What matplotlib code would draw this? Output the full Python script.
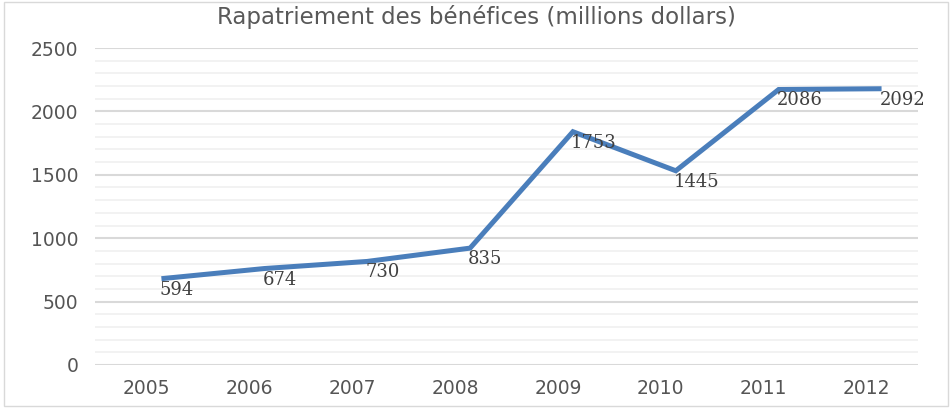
import matplotlib
matplotlib.use("Agg")
import matplotlib.pyplot as plt
import matplotlib.transforms as mtransforms
from matplotlib.patches import Rectangle

years = ["2005", "2006", "2007", "2008", "2009", "2010", "2011", "2012"]
values = [594, 674, 730, 835, 1753, 1445, 2086, 2092]
yticks = [0, 500, 1000, 1500, 2000, 2500]

fig = plt.figure(figsize=(9.52, 4.08), dpi=100)
ax = fig.add_axes([95 / 952, 1 - 365 / 408, (918 - 95) / 952, (365 - 48) / 408])

x = [i + 0.5 for i in range(len(years))]

# the line in the source sits a little up and right of the labels
shift = mtransforms.ScaledTranslation(0.15, 0.11, fig.dpi_scale_trans)
ax.plot(x, values, color="#4a7ebb", lw=3.6, solid_capstyle="butt",
        solid_joinstyle="miter", transform=ax.transData + shift, zorder=3)

for xi, v in zip(x, values):
    ax.annotate(str(v), (xi, v), xytext=(13, 0), textcoords="offset pixels",
                ha="left", va="center", fontsize=13, family="DejaVu Serif",
                color="#404040", zorder=4)

ax.set_xlim(0, len(years))
ax.set_ylim(0, 2500)
ax.set_xticks(x)
ax.set_xticklabels(years)
ax.set_yticks(yticks)
ax.set_yticks(range(0, 2501, 100), minor=True)
ax.grid(axis="y", which="major", color="#d9d9d9", lw=1.5)
ax.grid(axis="y", which="minor", color="#f0f0f0", lw=1.2)
ax.set_axisbelow(True)
ax.tick_params(axis="both", which="both", length=0)
ax.tick_params(axis="x", pad=10, labelsize=13.5, labelcolor="#555555")
ax.tick_params(axis="y", pad=12, labelsize=13.5, labelcolor="#555555")
for s in ax.spines.values():
    s.set_visible(False)

fig.text(0.5, 1 - 17 / 408, "Rapatriement des bénéfices (millions dollars)",
         ha="center", va="center", fontsize=16.5, color="#595959")

fig.patches.append(Rectangle((4 / 952, 2 / 408), 944 / 952, 404 / 408,
                             transform=fig.transFigure, fill=False,
                             edgecolor="#d9d9d9", lw=1))

fig.savefig("out.png", dpi=100)
